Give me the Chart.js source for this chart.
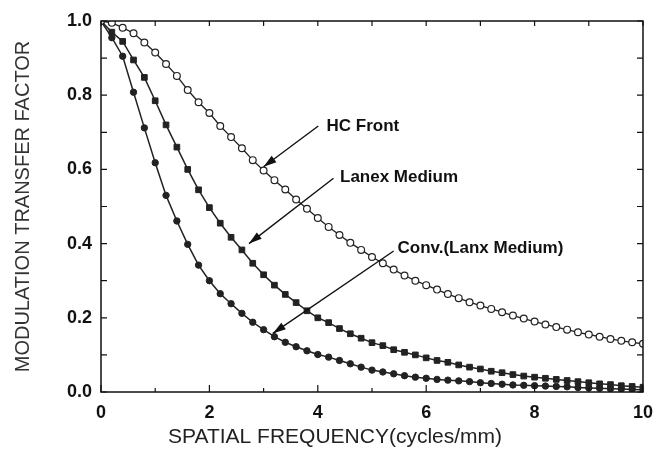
<!DOCTYPE html>
<html>
<head>
<meta charset="utf-8">
<script src="https://cdn.jsdelivr.net/npm/chart.js@4.4.1/dist/chart.umd.min.js"></script>
<style>
  html, body { margin: 0; padding: 0; background: #fff; }
  #wrap { width: 663px; height: 466px; }
</style>
</head>
<body>
<div id="wrap"><canvas id="mtfChart"></canvas></div>
<script>
// spatial frequency (cycles/mm)
const freq = [0, 0.2, 0.4, 0.6, 0.8, 1.0, 1.2, 1.4, 1.6, 1.8,
    2.0, 2.2, 2.4, 2.6, 2.8, 3.0, 3.2, 3.4, 3.6, 3.8,
    4.0, 4.2, 4.4, 4.6, 4.8, 5.0, 5.2, 5.4, 5.6, 5.8,
    6.0, 6.2, 6.4, 6.6, 6.8, 7.0, 7.2, 7.4, 7.6, 7.8,
    8.0, 8.2, 8.4, 8.6, 8.8, 9.0, 9.2, 9.4, 9.6, 9.8, 10.0];

const hcFront = [1.0, 0.995, 0.982, 0.967, 0.942, 0.915, 0.884, 0.852, 0.814, 0.781,
    0.752, 0.717, 0.687, 0.657, 0.625, 0.597, 0.571, 0.546, 0.519, 0.494,
    0.469, 0.445, 0.423, 0.402, 0.383, 0.364, 0.347, 0.330, 0.314, 0.300,
    0.288, 0.276, 0.264, 0.253, 0.242, 0.233, 0.224, 0.215, 0.206, 0.198,
    0.190, 0.182, 0.175, 0.168, 0.161, 0.155, 0.149, 0.143, 0.138, 0.134, 0.130];

const lanexMedium = [1.0, 0.970, 0.945, 0.895, 0.848, 0.785, 0.720, 0.660, 0.600, 0.545,
    0.497, 0.455, 0.417, 0.383, 0.347, 0.316, 0.288, 0.263, 0.241, 0.219,
    0.200, 0.187, 0.171, 0.157, 0.145, 0.133, 0.125, 0.114, 0.107, 0.100,
    0.092, 0.085, 0.080, 0.073, 0.067, 0.062, 0.056, 0.052, 0.047, 0.043,
    0.040, 0.037, 0.034, 0.031, 0.028, 0.025, 0.022, 0.020, 0.017, 0.015, 0.013];

const convLanx = [1.0, 0.955, 0.905, 0.808, 0.712, 0.618, 0.530, 0.461, 0.398, 0.342,
    0.300, 0.265, 0.238, 0.212, 0.188, 0.168, 0.149, 0.134, 0.122, 0.111,
    0.101, 0.094, 0.085, 0.076, 0.067, 0.059, 0.054, 0.049, 0.044, 0.040,
    0.037, 0.034, 0.032, 0.030, 0.028, 0.025, 0.023, 0.021, 0.019, 0.018,
    0.017, 0.016, 0.015, 0.014, 0.012, 0.011, 0.010, 0.009, 0.008, 0.007, 0.006];

// labels with arrows: text position, arrow start, arrow tip (data units)
const callouts = [
    { text: "HC Front", at: [4.16, 0.717], from: [4.01, 0.717], to: [3.0, 0.607] },
    { text: "Lanex Medium", at: [4.41, 0.580], from: [4.29, 0.576], to: [2.73, 0.400] },
    { text: "Conv.(Lanx Medium)", at: [5.47, 0.388], from: [5.40, 0.380], to: [3.17, 0.158] },
];

const xTitle = "SPATIAL FREQUENCY(cycles/mm)";
const yTitle = "MODULATION TRANSFER FACTOR";

const toPoints = (ys) => freq.map((f, i) => ({ x: f, y: ys[i] }));

// frame, inward ticks, x title and arrow callouts
const decorPlugin = {
    id: "decor",
    afterDraw(chart) {
        const { ctx, chartArea: a, scales: { x, y } } = chart;
        ctx.save();
        ctx.strokeStyle = "#111";
        ctx.lineWidth = 1.5;
        ctx.strokeRect(a.left, a.top, a.right - a.left, a.bottom - a.top);

        ctx.lineWidth = 1.2;
        ctx.beginPath();
        for (let v = 0; v <= 10; v++) {
            const px = x.getPixelForValue(v);
            const len = v % 2 === 0 ? 7 : 4;
            ctx.moveTo(px, a.bottom);
            ctx.lineTo(px, a.bottom - len);
            ctx.moveTo(px, a.top);
            ctx.lineTo(px, a.top + 5);
        }
        for (let k = 0; k <= 10; k++) {
            const py = y.getPixelForValue(k / 10);
            ctx.moveTo(a.left, py);
            ctx.lineTo(a.left + 6, py);
            ctx.moveTo(a.right, py);
            ctx.lineTo(a.right - 6, py);
        }
        ctx.stroke();

        // x axis title
        ctx.fillStyle = "#222";
        ctx.font = "21px 'Liberation Sans', Arial, sans-serif";
        ctx.textAlign = "left";
        ctx.textBaseline = "middle";
        ctx.fillText(xTitle, 168, 437);

        // callouts
        ctx.font = "bold 17px 'Liberation Sans', Arial, sans-serif";
        ctx.fillStyle = "#111";
        ctx.strokeStyle = "#111";
        ctx.lineWidth = 1.4;
        callouts.forEach((c) => {
            const tx = x.getPixelForValue(c.at[0]);
            const ty = y.getPixelForValue(c.at[1]);
            ctx.fillText(c.text, tx, ty);
            const x0 = x.getPixelForValue(c.from[0]);
            const y0 = y.getPixelForValue(c.from[1]);
            const x1 = x.getPixelForValue(c.to[0]);
            const y1 = y.getPixelForValue(c.to[1]);
            ctx.beginPath();
            ctx.moveTo(x0, y0);
            ctx.lineTo(x1, y1);
            ctx.stroke();
            const ang = Math.atan2(y1 - y0, x1 - x0);
            const L = 13, W = 4;
            ctx.beginPath();
            ctx.moveTo(x1, y1);
            ctx.lineTo(x1 - L * Math.cos(ang) + W * Math.sin(ang), y1 - L * Math.sin(ang) - W * Math.cos(ang));
            ctx.lineTo(x1 - L * Math.cos(ang) - W * Math.sin(ang), y1 - L * Math.sin(ang) + W * Math.cos(ang));
            ctx.closePath();
            ctx.fill();
        });
        ctx.restore();
    },
};

const ctx = document.getElementById("mtfChart").getContext("2d");
const mtfChart = new Chart(ctx, {
    type: "line",
    data: {
        datasets: [
            {
                label: "HC Front",
                data: toPoints(hcFront),
                borderColor: "#222",
                borderWidth: 1.3,
                pointStyle: "circle",
                pointRadius: 3.4,
                pointBackgroundColor: "#fff",
                pointBorderColor: "#222",
                pointBorderWidth: 1.2,
                tension: 0,
            },
            {
                label: "Lanex Medium",
                data: toPoints(lanexMedium),
                borderColor: "#222",
                borderWidth: 1.5,
                pointStyle: "rect",
                pointRadius: 4,
                pointBackgroundColor: "#222",
                pointBorderColor: "#222",
                pointBorderWidth: 1,
                tension: 0,
            },
            {
                label: "Conv.(Lanx Medium)",
                data: toPoints(convLanx),
                borderColor: "#222",
                borderWidth: 1.5,
                pointStyle: "circle",
                pointRadius: 3.2,
                pointBackgroundColor: "#222",
                pointBorderColor: "#222",
                pointBorderWidth: 1,
                tension: 0,
            },
        ],
    },
    options: {
        responsive: true,
        maintainAspectRatio: false,
        animation: false,
        layout: {
            padding: { left: 0, right: 11, top: 21, bottom: 0 },
        },
        plugins: {
            legend: { display: false },
            tooltip: { enabled: false },
        },
        scales: {
            x: {
                type: "linear",
                min: 0,
                max: 10,
                grid: { display: false, drawTicks: false },
                border: { display: false },
                ticks: {
                    stepSize: 2,
                    padding: 10,
                    color: "#111",
                    font: { family: "'Liberation Sans', Arial, sans-serif", size: 18, weight: "bold" },
                    maxRotation: 0,
                },
                afterFit(scale) {
                    scale.height = 74;
                },
            },
            y: {
                min: 0,
                max: 1,
                grid: { display: false, drawTicks: false },
                border: { display: false },
                ticks: {
                    stepSize: 0.2,
                    padding: 9,
                    color: "#111",
                    font: { family: "'Liberation Sans', Arial, sans-serif", size: 18, weight: "bold" },
                    callback: (v) => v.toFixed(1),
                },
                title: {
                    display: true,
                    text: yTitle,
                    color: "#333",
                    font: { family: "'Liberation Sans', Arial, sans-serif", size: 20 },
                    padding: { top: 11, bottom: 0 },
                },
                afterFit(scale) {
                    scale.width = 101;
                },
            },
        },
    },
    plugins: [decorPlugin],
});
</script>
</body>
</html>
